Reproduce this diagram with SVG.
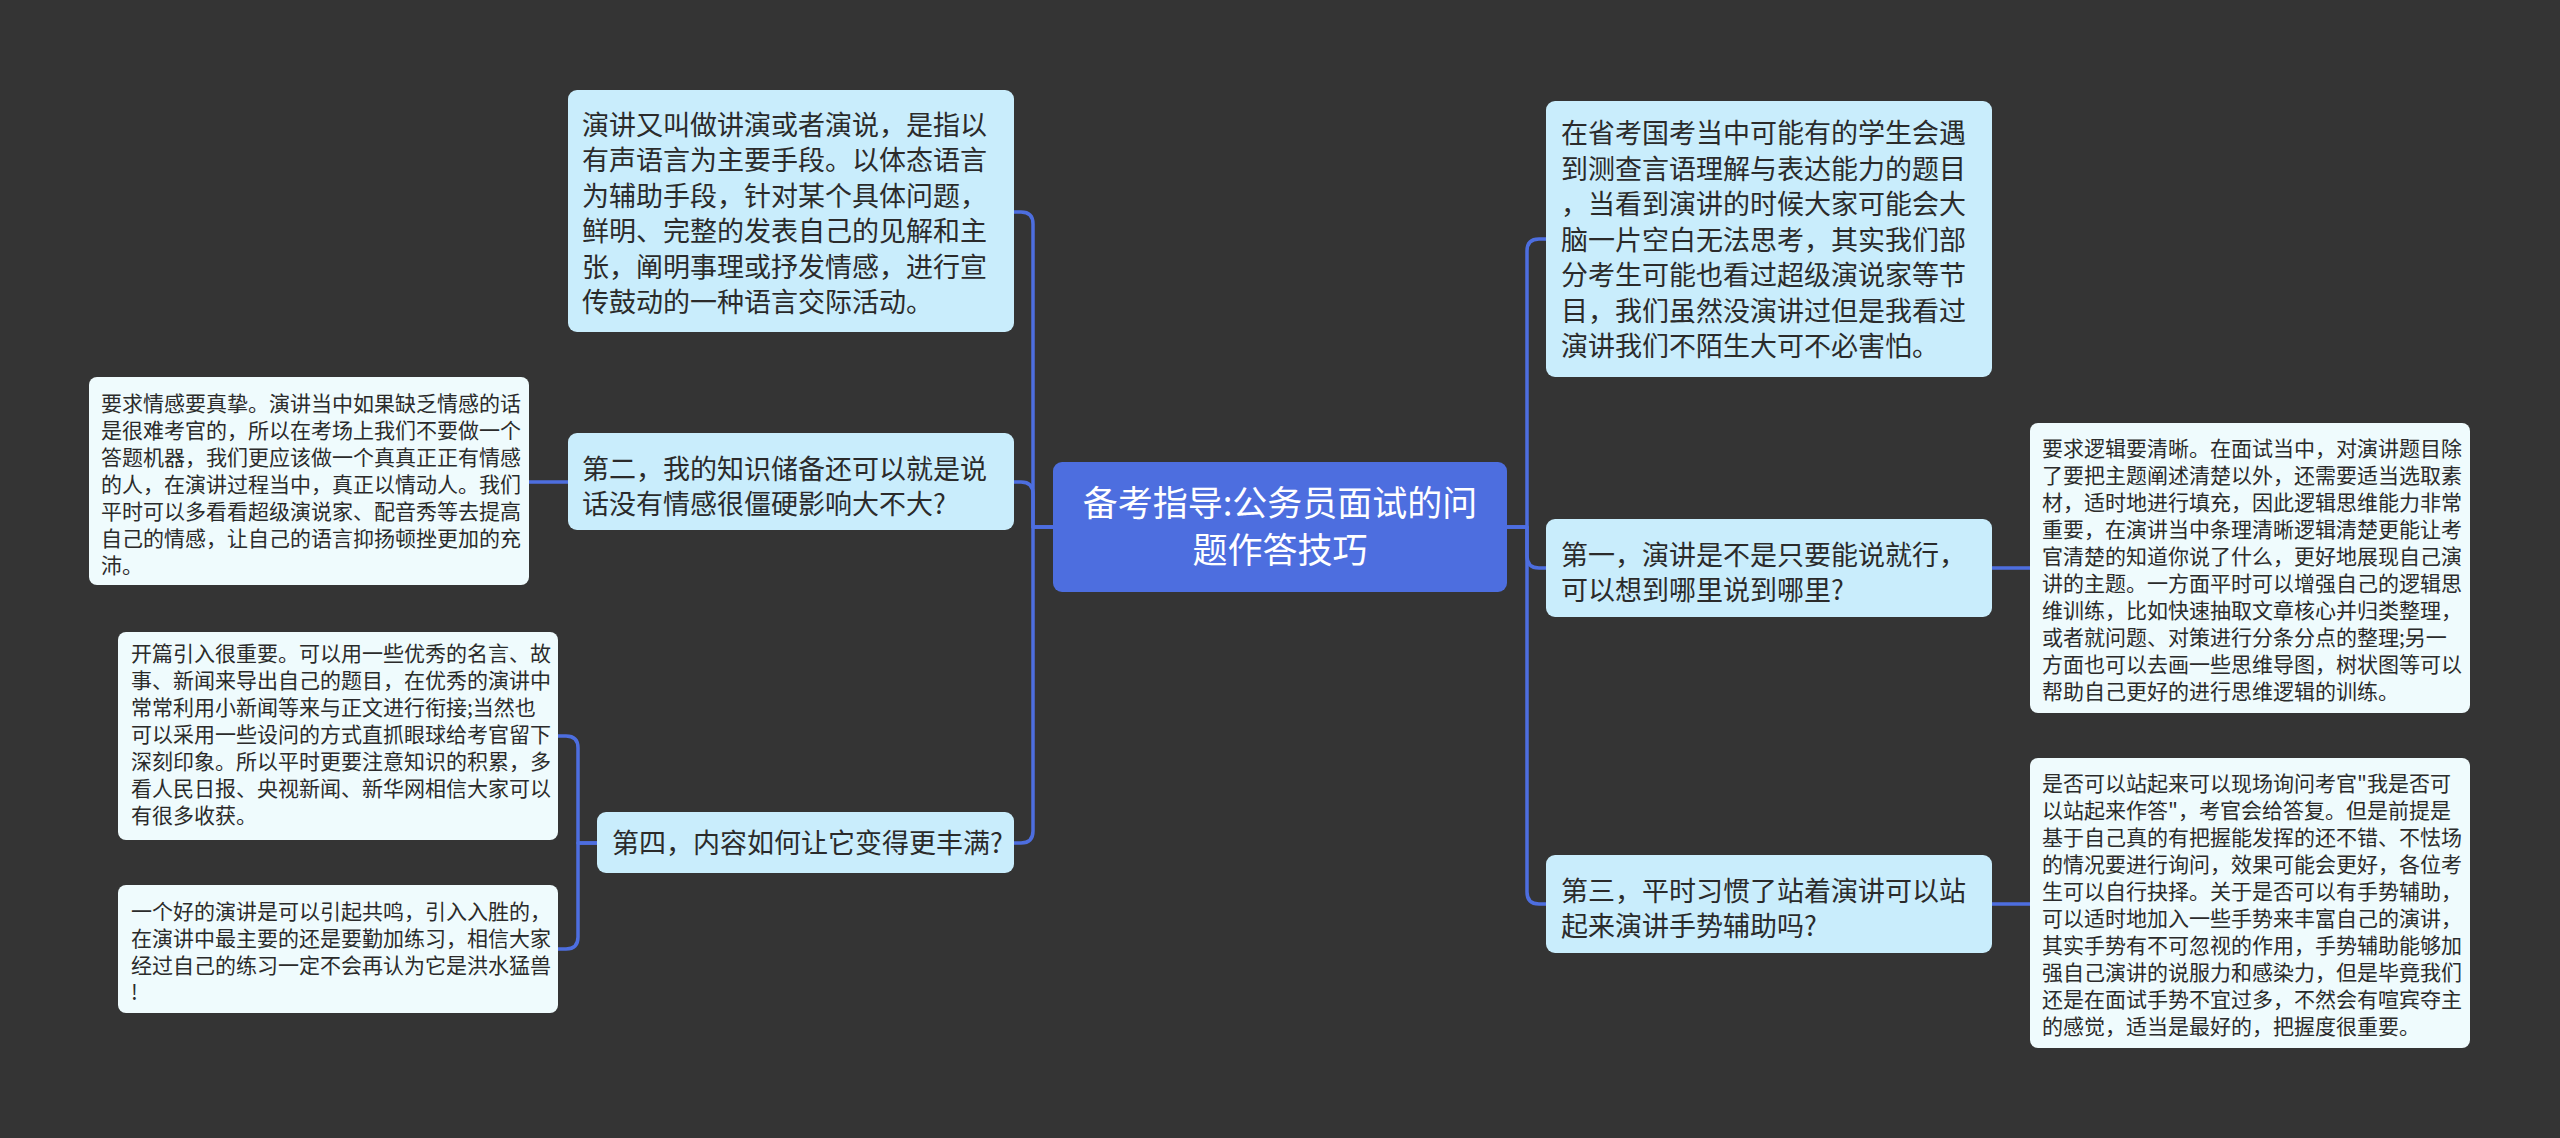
<svg xmlns="http://www.w3.org/2000/svg" width="2560" height="1138" viewBox="0 0 2560 1138">
<style>
.bg{fill:#343434}
.root rect{fill:#4d6edf}
.l1 rect{fill:#c9edfc}
.l2 rect{fill:#effbfd}
text{font-family:"Noto Sans CJK SC","Noto Sans",sans-serif;fill:#2b2b2b}
.l1 text{font-size:27px}
.l2 text{font-size:21px}
.root text{font-size:35px;fill:#ffffff;text-anchor:middle}
.conn path{fill:none;stroke:#4d6edf;stroke-width:3.5;stroke-linecap:round;stroke-linejoin:round}
</style>
<rect class="bg" x="0" y="0" width="2560" height="1138"/>

<g id="connectors" class="conn">
<path d="M1053,527 H1033 V224 Q1033,212 1021,212 H1014"/>
<path d="M1053,527 H1033 V494 Q1033,482 1021,482 H1014"/>
<path d="M1053,527 H1033 V831 Q1033,843 1021,843 H1014"/>
<path d="M1507,527 H1527 V251 Q1527,239 1539,239 H1546"/>
<path d="M1507,527 H1527 V556 Q1527,568 1539,568 H1546"/>
<path d="M1507,527 H1527 V892 Q1527,904 1539,904 H1546"/>
<path d="M568,482 H529"/>
<path d="M1992,568 H2030"/>
<path d="M1992,904 H2030"/>
<path d="M597,843 H578 V748 Q578,736 566,736 H558"/>
<path d="M597,843 H578 V937 Q578,949 566,949 H558"/>
</g>

<g id="root" class="root">
<rect x="1053" y="462" width="454" height="130" rx="9"/>
<text x="1280" y="516">备考指导:公务员面试的问</text>
<text x="1280" y="563">题作答技巧</text>
</g>

<g id="node-def" class="l1">
<rect x="568" y="90" width="446" height="242" rx="9"/>
<text x="582" y="135">演讲又叫做讲演或者演说，是指以</text>
<text x="582" y="170.4">有声语言为主要手段。以体态语言</text>
<text x="582" y="205.8">为辅助手段，针对某个具体问题，</text>
<text x="582" y="241.2">鲜明、完整的发表自己的见解和主</text>
<text x="582" y="276.6">张，阐明事理或抒发情感，进行宣</text>
<text x="582" y="312">传鼓动的一种语言交际活动。</text>
</g>

<g id="node-2" class="l1">
<rect x="568" y="433" width="446" height="97" rx="9"/>
<text x="582" y="479">第二，我的知识储备还可以就是说</text>
<text x="582" y="514">话没有情感很僵硬影响大不大?</text>
</g>

<g id="node-2-detail" class="l2">
<rect x="89" y="377" width="440" height="208" rx="8"/>
<text x="101" y="411">要求情感要真挚。演讲当中如果缺乏情感的话</text>
<text x="101" y="438">是很难考官的，所以在考场上我们不要做一个</text>
<text x="101" y="465">答题机器，我们更应该做一个真真正正有情感</text>
<text x="101" y="492">的人，在演讲过程当中，真正以情动人。我们</text>
<text x="101" y="519">平时可以多看看超级演说家、配音秀等去提高</text>
<text x="101" y="546">自己的情感，让自己的语言抑扬顿挫更加的充</text>
<text x="101" y="573">沛。</text>
</g>

<g id="node-4" class="l1">
<rect x="597" y="812" width="417" height="61" rx="9"/>
<text x="612" y="853">第四，内容如何让它变得更丰满?</text>
</g>

<g id="node-4-detail-a" class="l2">
<rect x="118" y="632" width="440" height="208" rx="8"/>
<text x="131" y="661">开篇引入很重要。可以用一些优秀的名言、故</text>
<text x="131" y="688">事、新闻来导出自己的题目，在优秀的演讲中</text>
<text x="131" y="715">常常利用小新闻等来与正文进行衔接;当然也</text>
<text x="131" y="742">可以采用一些设问的方式直抓眼球给考官留下</text>
<text x="131" y="769">深刻印象。所以平时更要注意知识的积累，多</text>
<text x="131" y="796">看人民日报、央视新闻、新华网相信大家可以</text>
<text x="131" y="823">有很多收获。</text>
</g>

<g id="node-4-detail-b" class="l2">
<rect x="118" y="885" width="440" height="128" rx="8"/>
<text x="131" y="919">一个好的演讲是可以引起共鸣，引入入胜的，</text>
<text x="131" y="946">在演讲中最主要的还是要勤加练习，相信大家</text>
<text x="131" y="973">经过自己的练习一定不会再认为它是洪水猛兽</text>
<text x="131" y="1000">!</text>
</g>

<g id="node-intro" class="l1">
<rect x="1546" y="101" width="446" height="276" rx="9"/>
<text x="1561" y="143">在省考国考当中可能有的学生会遇</text>
<text x="1561" y="178.5">到测查言语理解与表达能力的题目</text>
<text x="1561" y="214">，当看到演讲的时候大家可能会大</text>
<text x="1561" y="249.5">脑一片空白无法思考，其实我们部</text>
<text x="1561" y="285">分考生可能也看过超级演说家等节</text>
<text x="1561" y="320.5">目，我们虽然没演讲过但是我看过</text>
<text x="1561" y="356">演讲我们不陌生大可不必害怕。</text>
</g>

<g id="node-1" class="l1">
<rect x="1546" y="519" width="446" height="98" rx="9"/>
<text x="1561" y="565">第一，演讲是不是只要能说就行，</text>
<text x="1561" y="600">可以想到哪里说到哪里?</text>
</g>

<g id="node-1-detail" class="l2">
<rect x="2030" y="423" width="440" height="290" rx="8"/>
<text x="2042" y="456">要求逻辑要清晰。在面试当中，对演讲题目除</text>
<text x="2042" y="483">了要把主题阐述清楚以外，还需要适当选取素</text>
<text x="2042" y="510">材，适时地进行填充，因此逻辑思维能力非常</text>
<text x="2042" y="537">重要，在演讲当中条理清晰逻辑清楚更能让考</text>
<text x="2042" y="564">官清楚的知道你说了什么，更好地展现自己演</text>
<text x="2042" y="591">讲的主题。一方面平时可以增强自己的逻辑思</text>
<text x="2042" y="618">维训练，比如快速抽取文章核心并归类整理，</text>
<text x="2042" y="645">或者就问题、对策进行分条分点的整理;另一</text>
<text x="2042" y="672">方面也可以去画一些思维导图，树状图等可以</text>
<text x="2042" y="699">帮助自己更好的进行思维逻辑的训练。</text>
</g>

<g id="node-3" class="l1">
<rect x="1546" y="855" width="446" height="98" rx="9"/>
<text x="1561" y="901">第三，平时习惯了站着演讲可以站</text>
<text x="1561" y="936">起来演讲手势辅助吗?</text>
</g>

<g id="node-3-detail" class="l2">
<rect x="2030" y="758" width="440" height="290" rx="8"/>
<text x="2042" y="791">是否可以站起来可以现场询问考官"我是否可</text>
<text x="2042" y="818">以站起来作答"，考官会给答复。但是前提是</text>
<text x="2042" y="845">基于自己真的有把握能发挥的还不错、不怯场</text>
<text x="2042" y="872">的情况要进行询问，效果可能会更好，各位考</text>
<text x="2042" y="899">生可以自行抉择。关于是否可以有手势辅助，</text>
<text x="2042" y="926">可以适时地加入一些手势来丰富自己的演讲，</text>
<text x="2042" y="953">其实手势有不可忽视的作用，手势辅助能够加</text>
<text x="2042" y="980">强自己演讲的说服力和感染力，但是毕竟我们</text>
<text x="2042" y="1007">还是在面试手势不宜过多，不然会有喧宾夺主</text>
<text x="2042" y="1034">的感觉，适当是最好的，把握度很重要。</text>
</g>
</svg>
